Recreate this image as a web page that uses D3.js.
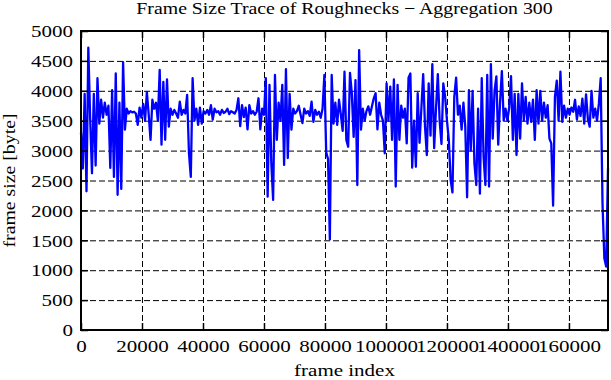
<!DOCTYPE html>
<html>
<head>
<meta charset="utf-8">
<script src="https://cdn.jsdelivr.net/npm/d3@7"></script>
<style>
  html, body { margin: 0; padding: 0; background: #fff; }
  svg { display: block; }
</style>
</head>
<body>
<svg id="chart" width="611" height="380"></svg>
<script>
// ---- data ----
const chartTitle = "Frame Size Trace of Roughnecks \u2212 Aggregation 300";
const xLabel = "frame index";
const yLabel = "frame size [byte]";
const frameStep = 600;            // frames between plotted samples
const xTicks = [0, 20000, 40000, 60000, 80000, 100000, 120000, 140000, 160000];
const yTicks = [0, 500, 1000, 1500, 2000, 2500, 3000, 3500, 4000, 4500, 5000];
const xMax = 172800;
const yMax = 5000;

const frameSizesA = [
  3300, 2700, 3950, 2320, 4720, 3550, 2620, 3950, 2750, 4210,
  3450, 3850, 3550, 3800, 3600, 3750, 2710, 4010, 2560, 4290,
  2260, 3800, 2360, 4480, 3350, 3700, 3620, 3660, 3640, 3650,
  3620, 3430, 3720, 3550, 3780, 3500, 3980, 3600, 3180, 3850,
  3700, 3800, 3500, 4350, 3100, 4150, 3180, 4190, 3400, 3700,
  3600, 3680, 3620, 3550, 3820, 3600, 3680, 3620, 3930, 2960
];
const frameSizesB = [
  2560, 4210, 3500, 3700, 3430, 3720, 3450, 3660, 3620, 3680,
  3600, 3760, 3520, 3700, 3640, 3660, 3600, 3680, 3630, 3650,
  3700, 3610, 3660, 3640, 3620, 3680, 3875, 3410, 3760, 3560,
  3720, 3355, 3760, 3620, 3660, 3600, 3650, 3875, 3355, 3700,
  3600, 4210, 2230, 4100, 2790, 2175, 4265, 3180, 3800, 3500,
  4100, 2760, 4360, 2875, 3950, 3350, 3700, 3620, 3660, 3750
];
const frameSizesC = [
  3600, 3460, 3700, 3620, 3660, 3580, 3820, 3480, 3680, 3600,
  3650, 3550, 3700, 4265, 2970, 2860, 1515, 4265, 3450, 3800,
  3430, 3850, 3600, 3330, 4320, 3180, 3065, 4300, 3957, 3230,
  4180, 2425, 4680, 3350, 3700, 3500, 3660, 3740, 3600, 3740,
  3875, 3960, 3355, 3800, 3600, 3500, 2955, 4125, 3500, 4070,
  3180, 4190, 2400, 4100, 3180, 3750, 3550, 3700, 3120, 4220
];
const frameSizesD = [
  4290, 2715, 3500, 2730, 3960, 3130, 3700, 4280, 3400, 2925,
  4125, 3250, 4447, 3040, 3700, 4280, 3500, 3110, 4125, 3900,
  3500, 3180, 2510, 2300, 3900, 4220, 3600, 3750, 3350, 3800,
  3400, 2220, 4010, 3000, 4000, 2785, 2425, 3700, 2280, 4210,
  2900, 2425, 4265, 2400, 4447, 3200, 4000, 4240, 3100, 3800,
  4330, 3500, 3700, 3500, 3720, 4245, 3180, 3950, 2925, 3950
];
const frameSizesE = [
  3200, 4125, 3500, 3900, 3450, 3800, 3480, 3850, 3180, 4010,
  3450, 4000, 3500, 3800, 3550, 3760, 3200, 3120, 2080, 3900,
  4170, 3500, 4320, 3480, 3750, 3550, 3700, 3600, 3720, 3650,
  3850, 3520, 3740, 3580, 3870, 3450, 3940, 3530, 3400, 4000,
  3550, 3700, 3500, 3780, 4210, 2120, 1200, 1060, 2700
];
const frameSizes = [].concat(frameSizesA, frameSizesB, frameSizesC, frameSizesD, frameSizesE);

// ---- layout ----
const margin = { left: 81, right: 3, top: 31, bottom: 50 };
const W = 611, H = 380;
const plotW = W - margin.left - margin.right;
const plotH = H - margin.top - margin.bottom;
const FONT = "'Liberation Serif', 'Times New Roman', serif";
const FS = 17.5;
const SX = 1.2;

const svg = d3.select("#chart");
svg.append("rect").attr("width", W).attr("height", H).attr("fill", "#fff");

const x = d3.scaleLinear().domain([0, xMax]).range([margin.left, margin.left + plotW]);
const y = d3.scaleLinear().domain([0, yMax]).range([margin.top + plotH, margin.top]);

// grid
const grid = svg.append("g").attr("class", "grid");
grid.append("g")
  .attr("transform", `translate(0,${margin.top + plotH})`)
  .call(d3.axisBottom(x).tickValues(xTicks).tickSize(-plotH).tickFormat(""))
  .call(g => g.select(".domain").remove())
  .call(g => g.selectAll("line").attr("stroke", "#000").attr("stroke-width", 1).attr("stroke-dasharray", "6,3"));
grid.append("g")
  .attr("transform", `translate(${margin.left},0)`)
  .call(d3.axisLeft(y).tickValues(yTicks).tickSize(-plotW).tickFormat(""))
  .call(g => g.select(".domain").remove())
  .call(g => g.selectAll("line").attr("stroke", "#000").attr("stroke-width", 1).attr("stroke-dasharray", "6,3"));

// data line
const line = d3.line()
  .x((d, i) => x(i * frameStep))
  .y(d => y(d));
svg.append("path")
  .datum(frameSizes)
  .attr("fill", "none")
  .attr("stroke", "#0000ff")
  .attr("stroke-width", 2.3)
  .attr("stroke-linejoin", "round")
  .attr("d", line);

// axes (ticks inward, mirrored)
function styleTicks(g) {
  g.select(".domain").remove();
  g.selectAll(".tick line").attr("stroke", "#000").attr("stroke-width", 1.5);
}
const bottomAxis = svg.append("g")
  .attr("transform", `translate(0,${margin.top + plotH})`)
  .call(d3.axisBottom(x).tickValues(xTicks).tickSize(-7).tickPadding(0).tickFormat(d3.format("d")))
  .call(styleTicks);
bottomAxis.selectAll("text")
  .attr("font-family", FONT).attr("font-size", FS).attr("fill", "#000")
  .attr("y", 22).attr("dy", 0)
  .attr("transform", `scale(${SX},1)`);

const leftAxis = svg.append("g")
  .attr("transform", `translate(${margin.left},0)`)
  .call(d3.axisLeft(y).tickValues(yTicks).tickSize(-7).tickPadding(0).tickFormat(d3.format("d")))
  .call(styleTicks);
leftAxis.selectAll("text")
  .attr("font-family", FONT).attr("font-size", FS).attr("fill", "#000")
  .attr("x", -8 / SX).attr("dy", "0.33em")
  .attr("transform", `scale(${SX},1)`);

svg.append("g")
  .attr("transform", `translate(0,${margin.top})`)
  .call(d3.axisTop(x).tickValues(xTicks).tickSize(-7).tickFormat(""))
  .call(styleTicks);
svg.append("g")
  .attr("transform", `translate(${margin.left + plotW},0)`)
  .call(d3.axisRight(y).tickValues(yTicks).tickSize(-7).tickFormat(""))
  .call(styleTicks);

// border
svg.append("rect")
  .attr("x", margin.left).attr("y", margin.top)
  .attr("width", plotW).attr("height", plotH)
  .attr("fill", "none").attr("stroke", "#000").attr("stroke-width", 2);

// title & labels
svg.append("text")
  .attr("transform", `translate(${margin.left + plotW / 2},14) scale(${SX},1)`)
  .attr("text-anchor", "middle")
  .attr("font-family", FONT).attr("font-size", 16.5).attr("fill", "#000")
  .text(chartTitle);
svg.append("text")
  .attr("transform", `translate(${margin.left + plotW / 2},376) scale(${SX},1)`)
  .attr("text-anchor", "middle")
  .attr("font-family", FONT).attr("font-size", FS).attr("fill", "#000")
  .text(xLabel);
svg.append("text")
  .attr("transform", `translate(15,${margin.top + plotH / 2}) rotate(-90) scale(${SX},1)`)
  .attr("text-anchor", "middle")
  .attr("font-family", FONT).attr("font-size", 16.5).attr("fill", "#000")
  .text(yLabel);
</script>
</body>
</html>
